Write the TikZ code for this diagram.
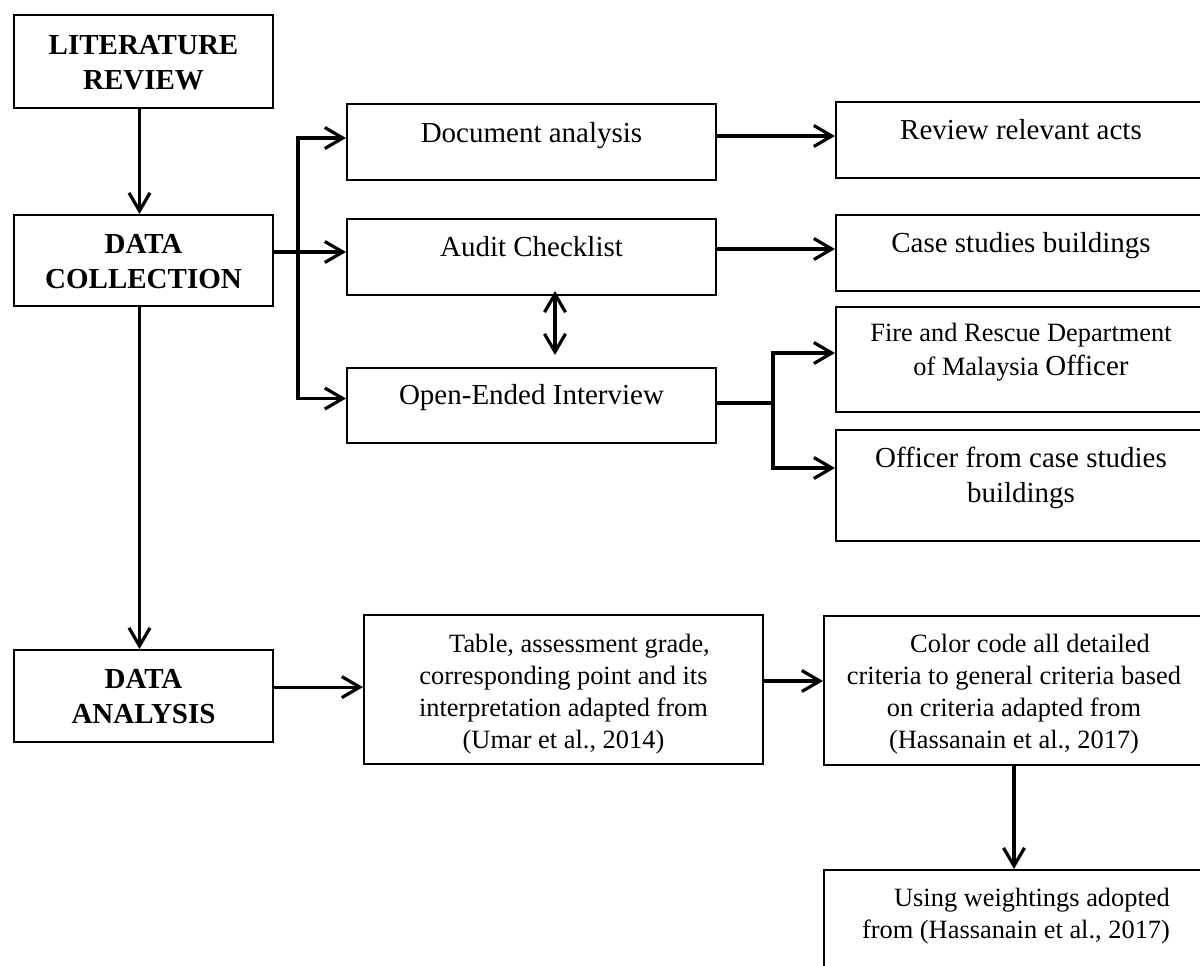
\documentclass[tikz,border=0pt]{standalone}
\usepackage{fontspec}
\setmainfont{Liberation Serif}
\usetikzlibrary{arrows.meta,positioning}

\newcommand{\bigsz}{\fontsize{14.5}{17.5}\selectfont}
\newcommand{\smallsz}{\fontsize{13.2}{15.9}\selectfont}
\newcommand{\boxtext}[2]{\parbox[t]{#1}{\centering #2}}

\begin{document}
\begin{tikzpicture}[
    x=0.5pt, y=-0.5pt,
    >={Straight Barb[length=9pt,width=10.5pt]},
    box/.style={draw, line width=1pt, inner sep=0pt, anchor=north west},
    arr/.style={->, line width=1.6pt},
    link/.style={line width=1.6pt}
]
\useasboundingbox (0,0) rectangle (1200,965);
\clip (0,0) rectangle (1200,965);

% main stages
\node[box, text height=19.7pt, text depth=26.8pt] (lit) at (13,14)
    {\boxtext{129.5pt}{\bigsz\bfseries LITERATURE\\REVIEW}};
\node[box, text height=19pt, text depth=26.5pt] (coll) [below=52.5pt of lit.south west, anchor=north west]
    {\boxtext{129.5pt}{\bigsz\bfseries DATA\\COLLECTION}};
\node[box, text height=19.2pt, text depth=26.9pt] (ana) [below=171pt of coll.south west, anchor=north west]
    {\boxtext{129.5pt}{\bigsz\bfseries DATA\\ANALYSIS}};

% collection methods
\node[box, text height=19pt, text depth=19pt] (doc) at (346,103)
    {\boxtext{184.5pt}{\bigsz Document analysis}};
\node[box, text height=18.5pt, text depth=19.5pt] (audit) [below=18.5pt of doc.south west, anchor=north west]
    {\boxtext{184.5pt}{\bigsz Audit Checklist}};
\node[box, text height=18pt, text depth=19.5pt] (interview) [below=35.5pt of audit.south west, anchor=north west]
    {\boxtext{184.5pt}{\bigsz Open-Ended Interview}};

% sources
\node[box, text height=18.5pt, text depth=19.5pt] (acts) at (835,101)
    {\boxtext{185pt}{\bigsz Review relevant acts}};
\node[box, text height=18.5pt, text depth=19.5pt] (cases) [below=17.5pt of acts.south west, anchor=north west]
    {\boxtext{185pt}{\bigsz Case studies buildings}};
\node[box, text height=17.3pt, text depth=35.2pt] (fire) [below=7pt of cases.south west, anchor=north west]
    {\boxtext{185pt}{\fontsize{13.2}{17}\selectfont Fire and Rescue Department\\
     of Malaysia {\fontsize{14.5}{17}\selectfont Officer}}};
\node[box, text height=18.5pt, text depth=37pt] (officer) [below=8pt of fire.south west, anchor=north west]
    {\boxtext{185pt}{\bigsz Officer from case studies\\buildings}};

% analysis steps
\node[box, text height=18.8pt, text depth=55.7pt] (table) at (363,614)
    {\boxtext{199.5pt}{\smallsz\hspace*{16pt}Table, assessment grade,\\
     corresponding point and its\\interpretation adapted from\\(Umar et al., 2014)}};
\node[box, text height=18.3pt, text depth=56.2pt] (color) at (823,615)
    {\boxtext{190pt}{\smallsz\hspace*{16pt}Color code all detailed\\
     criteria to general criteria based\\on criteria adapted from\\(Hassanain et al., 2017)}};
\node[box, text height=18.2pt, text depth=60pt] (weight) [below=51.5pt of color.south west, anchor=north west]
    {\boxtext{192pt}{\smallsz\hspace*{16pt}Using weightings adopted\\
     from (Hassanain et al., 2017)}};

\coordinate (bus) at (298,252);
\coordinate (split) at (773,403);

\draw[arr] ([xshift=-2pt]lit.south) -- ([xshift=-2pt]lit.south |- coll.north);
\draw[arr] ([xshift=-2pt]coll.south) -- ([xshift=-2pt]coll.south |- ana.north);
\draw[arr] (coll.east |- bus) -- (bus -| audit.west);
\draw[arr] (bus) |- ([yshift=2pt]doc.west);
\draw[arr] (bus) |- ([yshift=3.5pt]interview.west);
\draw[<->, line width=1.6pt] ([xshift=11.75pt,yshift=2.5pt]audit.south) -- ([xshift=11.75pt,yshift=6pt]interview.north);
\draw[arr] ([yshift=3pt]doc.east) -- ([yshift=3pt]doc.east -| acts.west);
\draw[arr] ([yshift=4pt]audit.east) -- ([yshift=4pt]audit.east -| cases.west);
\draw[link] (interview.east |- split) -- (split);
\draw[arr] (split) |- ([yshift=3.25pt]fire.west);
\draw[arr] (split) |- ([yshift=8.75pt]officer.west);
\draw[arr] ([yshift=4.5pt]ana.east) -- ([yshift=4.5pt]ana.east -| table.west);
\draw[arr] ([yshift=4.25pt]table.east) -- ([yshift=4.25pt]table.east -| color.west);
\draw[arr] (color.south) -- (color.south |- weight.north);
\end{tikzpicture}
\end{document}
